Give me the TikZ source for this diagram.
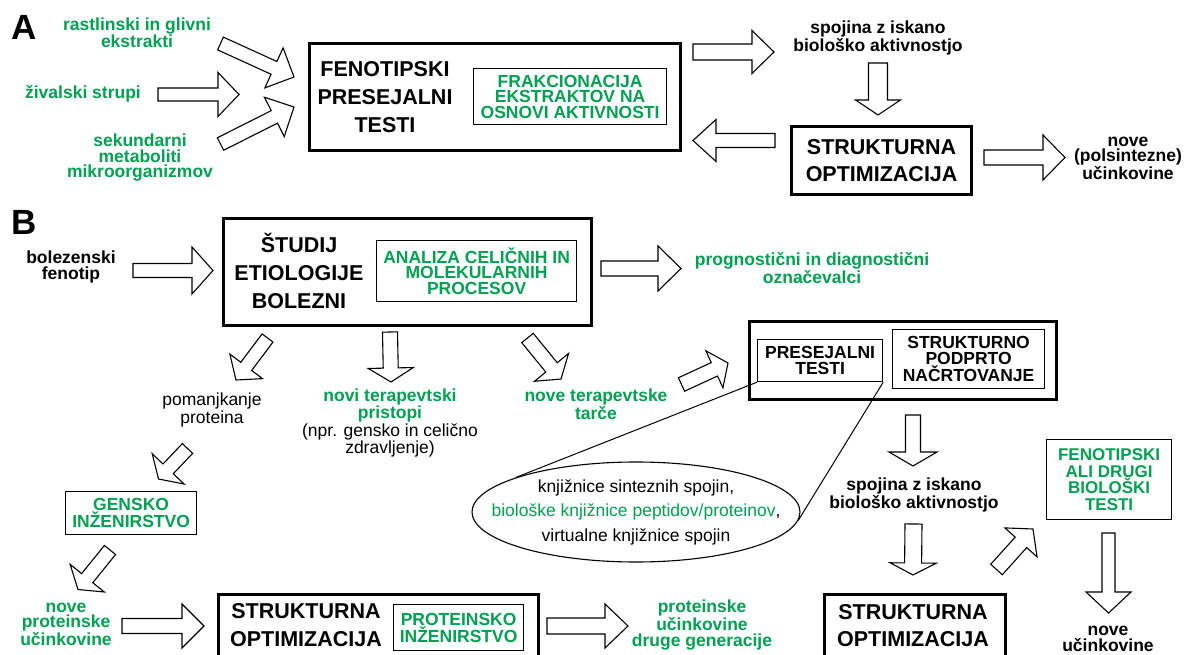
\documentclass[tikz,border=0pt]{standalone}
\usepackage{fontspec}
\setmainfont{Liberation Sans}
\usetikzlibrary{calc,shapes.geometric}
\definecolor{grn}{RGB}{0,160,80}
\newcommand{\barrow}[5]{%
  \coordinate (ba-t) at (#1);
  \coordinate (ba-h) at (#2);
  \coordinate (ba-b) at ($(ba-h)!#5pt!(ba-t)$);
  \draw[blockarr] ($(ba-t)!#3pt!90:(ba-h)$) -- ($(ba-b)!#3pt!-90:(ba-t)$) -- ($(ba-b)!#4pt!-90:(ba-t)$) -- (ba-h) -- ($(ba-b)!#4pt!90:(ba-t)$) -- ($(ba-b)!#3pt!90:(ba-t)$) -- ($(ba-t)!#3pt!-90:(ba-h)$) -- cycle;}
\tikzset{
  blockarr/.style={draw=black, fill=white, line width=1.1pt, line join=miter},
  bigbox/.style={draw, line width=3.2pt, inner sep=0, anchor=north west},
  inbox/.style={draw, line width=1.2pt, inner sep=0, anchor=north west},
  bl/.style={font=\bfseries\fontsize{17.5}{15.5}\selectfont, align=center, inner sep=0},
  gl/.style={bl, text=grn},
  rl/.style={font=\fontsize{17.5}{15.5}\selectfont, align=center, inner sep=0},
  ttl/.style={font=\bfseries\fontsize{21.5}{28}\selectfont, align=center, inner sep=0},
  letter/.style={font=\bfseries\fontsize{35}{35}\selectfont, inner sep=0},
}
\begin{document}
\begin{tikzpicture}[x=1pt,y=-1pt]
\useasboundingbox (0,0) rectangle (1189,655);
\clip (0,0) rectangle (1189,655);
% ---------------- Panel A
\node[letter] (lA) at (24,27) {A};
\node[gl] (rast) at (137,33) {rastlinski in glivni\\ekstrakti};
\node[gl] (ziv) at (83,94) {živalski strupi};
\node[gl] (sek) at (140,158) {sekundarni\\metaboliti\\mikroorganizmov};
\node[bigbox, minimum width=371pt, minimum height=107pt] (fen) at (308,42) {};
\node[ttl] (fent) at (385,97.5) {FENOTIPSKI\\PRESEJALNI\\TESTI};
\node[inbox, minimum width=193pt, minimum height=56pt] (frak) at (473,68) {};
\node[gl] (frakt) at (frak.center) {FRAKCIONACIJA\\EKSTRAKTOV NA\\OSNOVI AKTIVNOSTI};
\barrow{220.5,43.5}{294,77}{7}{22}{22}
\barrow{158,94.5}{239,94.5}{6.5}{22}{21}
\barrow{220.5,144}{294,107}{7}{22}{22}
\barrow{693,52}{774,52}{8}{21.5}{22}
\node[bl] (spA) at (878,38) {spojina z iskano\\biološko aktivnostjo};
\barrow{878,63}{878,115}{9.5}{22.5}{15}
\node[bigbox, minimum width=180pt, minimum height=68pt] (strA) at (790,125) {};
\node[ttl, font=\bfseries\fontsize{21.5}{27}\selectfont] (strAt) at (strA.center) {STRUKTURNA\\OPTIMIZACIJA};
\barrow{775,140.5}{693,140.5}{7}{21}{23}
\barrow{984,157.5}{1065,157.5}{7.5}{22.5}{22}
\node[bl] (noveA) at (1128,158) {nove\\(polsintezne)\\učinkovine};
% ---------------- Panel B
\node[letter] (lB) at (24,222) {B};
\node[bl] (bol) at (71,267) {bolezenski\\fenotip};
\barrow{133,270.5}{213,270.5}{7}{23.5}{21}
\node[bigbox, minimum width=368pt, minimum height=107pt] (stu) at (222,217) {};
\node[ttl] (stut) at (299,271) {ŠTUDIJ\\ETIOLOGIJE\\BOLEZNI};
\node[inbox, minimum width=200pt, minimum height=61pt] (ana) at (376,240) {};
\node[gl] (anat) at (ana.center) {ANALIZA CELIČNIH IN\\MOLEKULARNIH\\PROCESOV};
\barrow{601,268.5}{681,268.5}{7.5}{22.5}{23}
\node[gl] (prog) at (812,268) {prognostični in diagnostični\\označevalci};
\barrow{267.5,338}{236,380}{6.8}{20.4}{17}
\barrow{390,332}{391,382}{7.5}{22.5}{14}
\barrow{527.5,338}{561,379}{7.4}{22}{15}
\node[rl] (pom) at (212,410) {pomanjkanje\\proteina};
\node[rl] (novi) at (390,423) {\textcolor{grn}{\bfseries novi terapevtski}\\\textcolor{grn}{\bfseries pristopi}\\(npr. gensko in celično\\zdravljenje)};
\node[gl] (tar) at (596,404) {nove terapevtske\\tarče};
\barrow{681.5,384.5}{728,363}{7.4}{20.4}{15}
\node[bigbox, minimum width=307pt, minimum height=78pt] (pres) at (748,320) {};
\node[inbox, minimum width=125pt, minimum height=42pt] (presi) at (757,339) {};
\node[bl] (presit) at (presi.center) {PRESEJALNI\\TESTI};
\node[inbox, minimum width=152pt, minimum height=59pt] (spn) at (892,329) {};
\node[bl] (spnt) at (spn.center) {STRUKTURNO\\PODPRTO\\NAČRTOVANJE};
\node[draw, ellipse, line width=1.1pt, minimum width=328pt, minimum height=100pt, inner sep=0] (ell) at (636,512) {};
\node[rl, font=\fontsize{17.5}{24.5}\selectfont] (ellt) at (ell.center) {knjižnice sinteznih spojin,\\\textcolor{grn}{biološke knjižnice peptidov/proteinov},\\virtualne knjižnice spojin};
\draw[line width=1pt] (presi.south west) -- (ell.164.5);
\draw[line width=1pt] (presi.south east) -- (ell.357);
\barrow{913,415}{913,466}{7.5}{24}{14}
\node[bl] (spB) at (914,495) {spojina z iskano\\biološko aktivnostjo};
\barrow{913.5,524}{913,575}{8.5}{23}{12}
\node[bigbox, minimum width=181pt, minimum height=90pt] (strB) at (823,593) {};
\node[ttl, font=\bfseries\fontsize{21.5}{27}\selectfont] (strBt) at (913,626) {STRUKTURNA\\OPTIMIZACIJA};
\barrow{996.5,569.5}{1033,529}{7.8}{21.6}{18}
\node[inbox, minimum width=125pt, minimum height=80pt] (fal) at (1046,439) {};
\node[gl, font=\bfseries\fontsize{17}{16.5}\selectfont] (falt) at (fal.center) {FENOTIPSKI\\ALI DRUGI\\BIOLOŠKI\\TESTI};
\barrow{1108.5,533}{1108.5,613}{6.5}{22.5}{21}
\node[bl] (noveB) at (1108,639) {nove\\učinkovine};
\barrow{187.5,448.5}{158.5,479}{7.1}{22}{14}
\node[inbox, minimum width=131pt, minimum height=43pt] (gen) at (65,491) {};
\node[gl] (gent) at (gen.center) {GENSKO\\INŽENIRSTVO};
\barrow{110,550}{78,589.5}{7.2}{22}{14.6}
\node[gl] (npu) at (66,624) {nove\\proteinske\\učinkovine};
\barrow{122,626}{204,626}{7.5}{22}{22}
\node[bigbox, minimum width=320pt, minimum height=90pt] (strC) at (217,593) {};
\node[ttl] (strCt) at (306,625) {STRUKTURNA\\OPTIMIZACIJA};
\node[inbox, minimum width=130pt, minimum height=46pt] (pin) at (393,604) {};
\node[gl] (pint) at (pin.center) {PROTEINSKO\\INŽENIRSTVO};
\barrow{547,626}{628,626}{8}{22}{23}
\node[gl] (pud) at (702,625) {proteinske\\učinkovine\\druge generacije};
\end{tikzpicture}
\end{document}
